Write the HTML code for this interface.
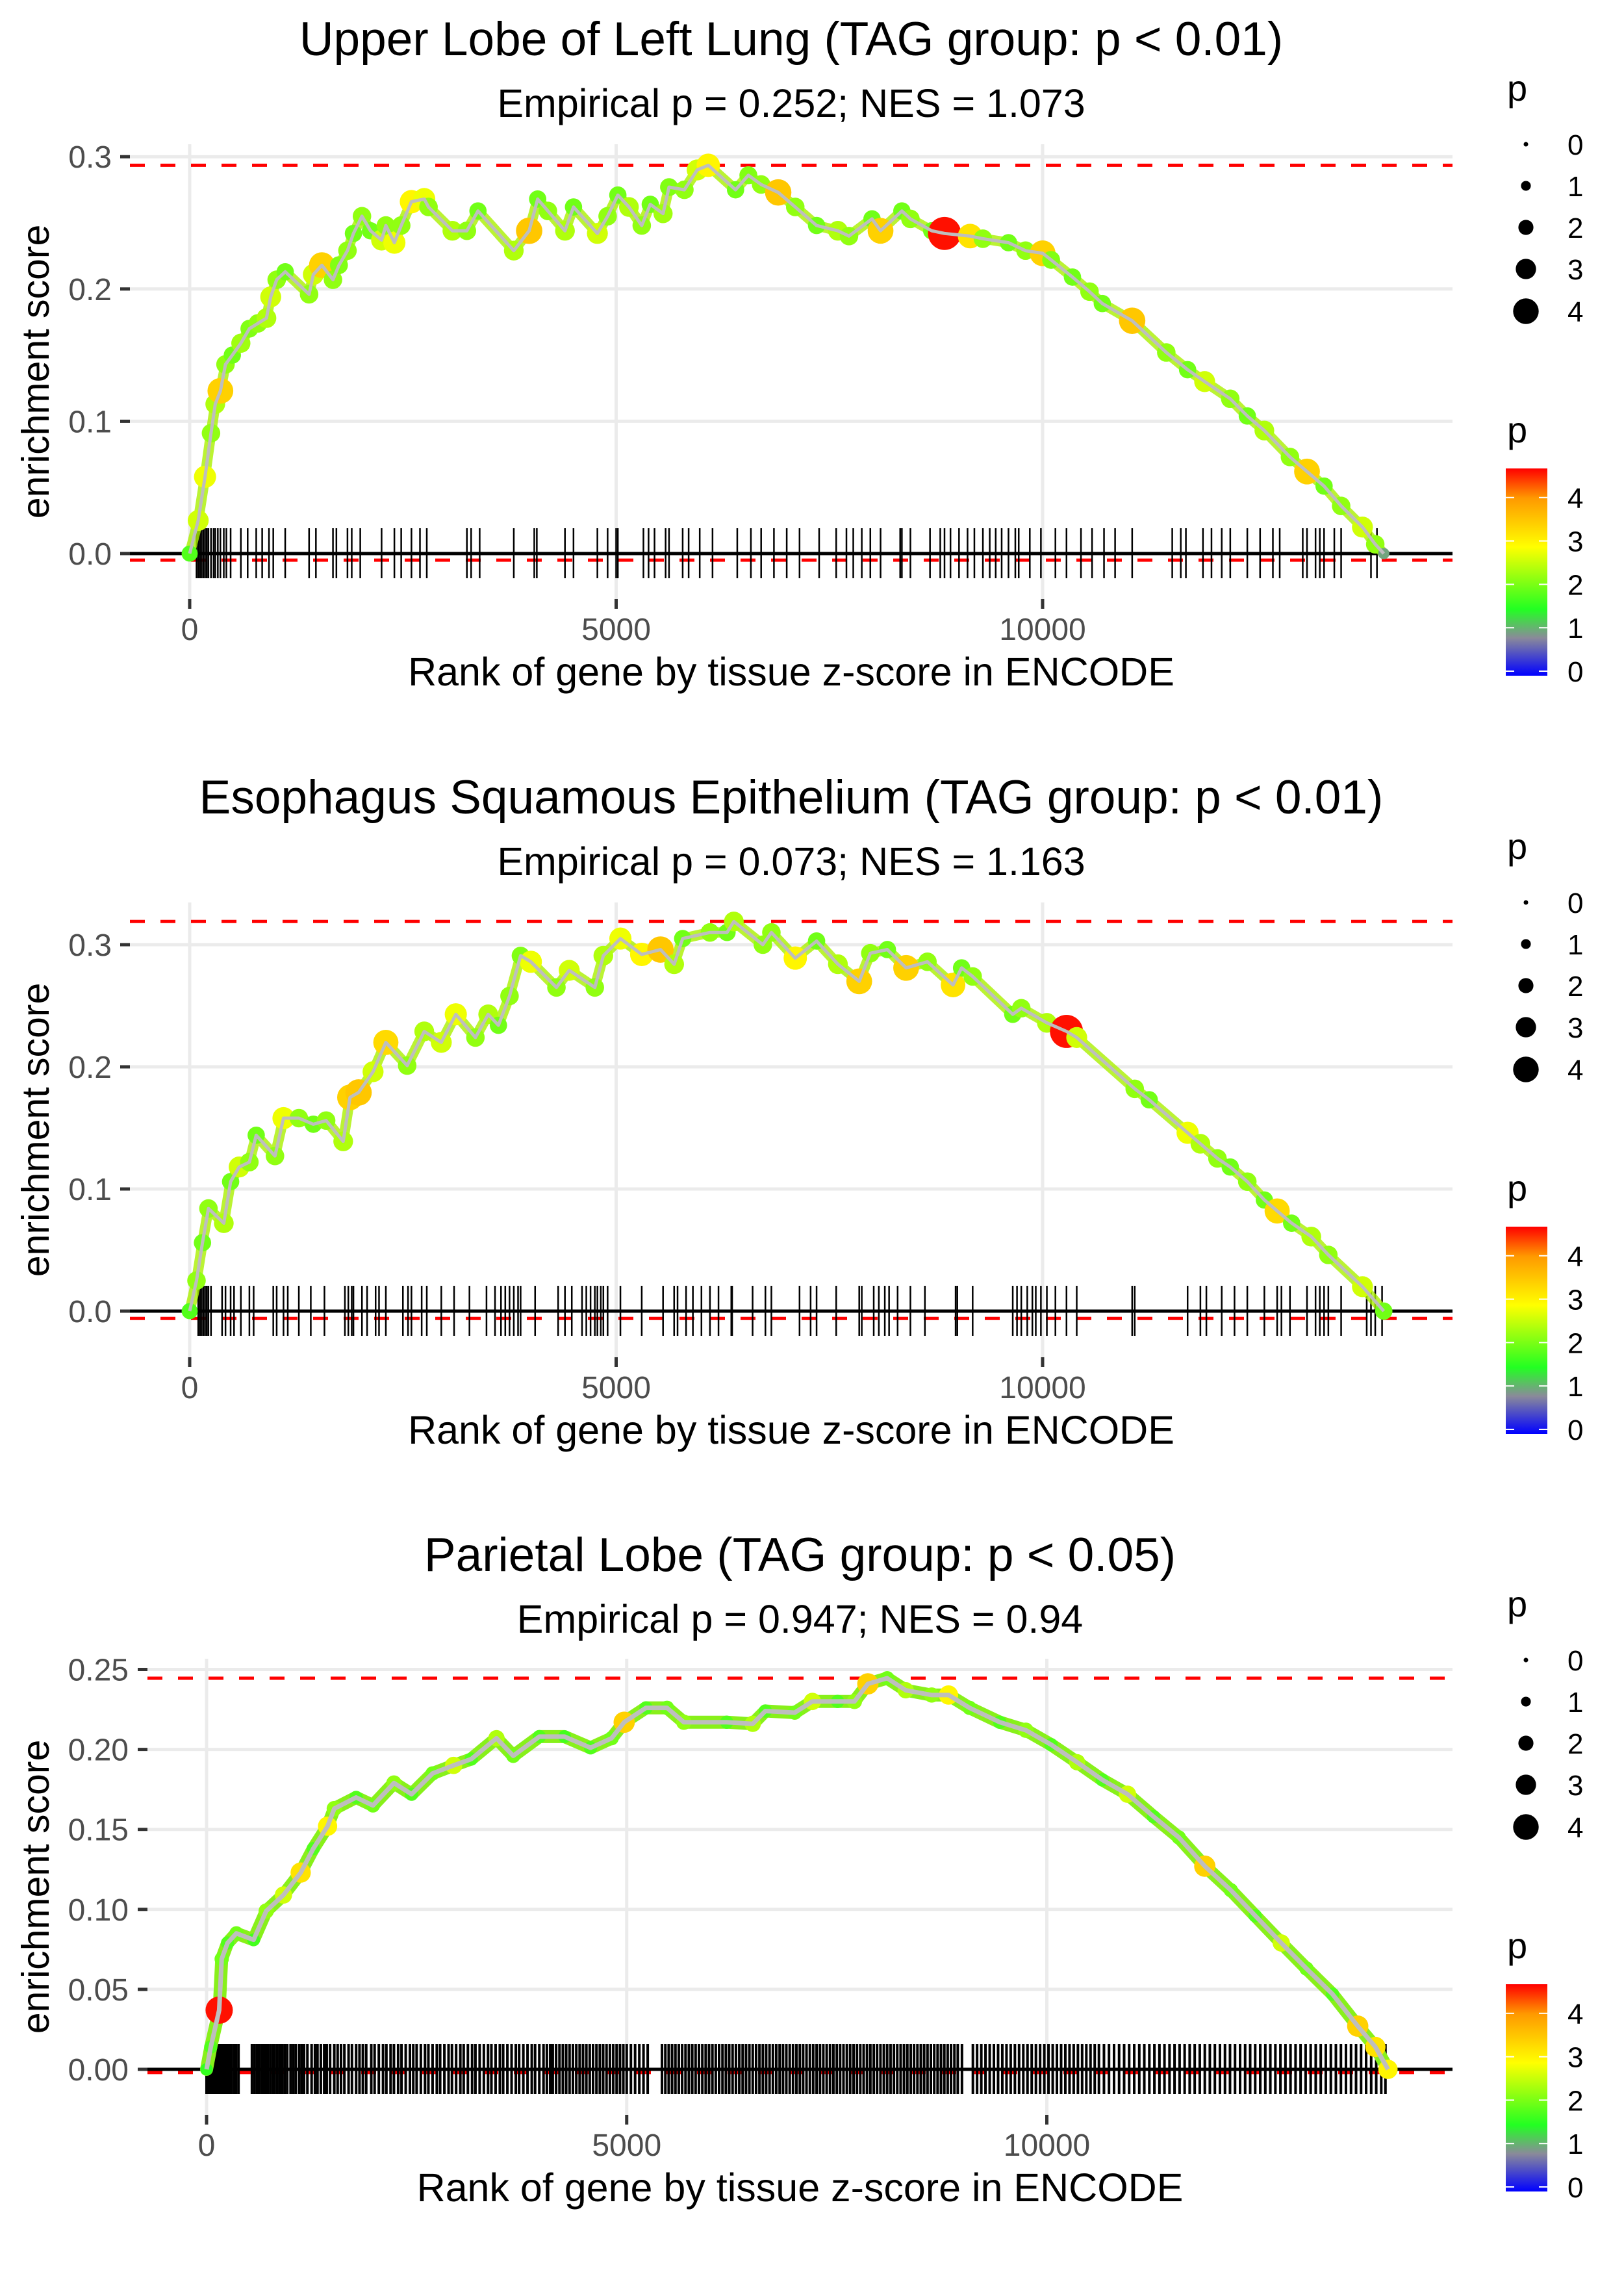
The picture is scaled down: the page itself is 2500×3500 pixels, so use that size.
<!DOCTYPE html>
<html><head><meta charset="utf-8">
<style>
html,body{margin:0;padding:0;background:#fff;}
svg{display:block;font-family:"Liberation Sans",Arial,sans-serif;}
</style></head>
<body>
<svg id="fig" width="2500" height="3500" viewBox="0 0 2500 3500" xmlns="http://www.w3.org/2000/svg">
<defs>
<linearGradient id="pgrad" x1="0" y1="1" x2="0" y2="0">
<stop offset="0" stop-color="#0000ff"/>
<stop offset="0.182" stop-color="#8a8a9a"/>
<stop offset="0.321" stop-color="#22ff22"/>
<stop offset="0.621" stop-color="#ffff00"/>
<stop offset="0.857" stop-color="#ff9900"/>
<stop offset="1" stop-color="#ff0000"/>
</linearGradient>
</defs>
</svg>
<script>
// ---------- Panel 1 data: Upper Lobe of Left Lung ----------
const p1Rank = [0,100,180,250,300,360,420,500,600,700,800,900,950,1020,1120,1400,1450,1550,1680,1750,1850,1920,2020,2120,2250,2300,2400,2480,2600,2750,2800,3080,3250,3380,3800,3980,4080,4200,4400,4500,4780,4900,5020,5150,5300,5400,5550,5620,5800,5950,6080,6400,6550,6700,6900,7100,7350,7600,7730,8000,8100,8350,8450,8700,8850,9150,9300,9600,9800,10000,10100,10350,10550,10700,11050,11450,11700,11900,12200,12400,12600,12900,13100,13300,13500,13750,13900,14000];
const p1ES = [0,0.025,0.058,0.091,0.113,0.123,0.143,0.150,0.159,0.170,0.174,0.178,0.194,0.207,0.213,0.196,0.211,0.218,0.207,0.218,0.229,0.242,0.255,0.244,0.237,0.248,0.235,0.248,0.266,0.268,0.262,0.244,0.244,0.259,0.229,0.244,0.268,0.259,0.244,0.262,0.242,0.255,0.271,0.262,0.248,0.264,0.257,0.277,0.275,0.290,0.2935,0.275,0.286,0.279,0.273,0.262,0.248,0.244,0.240,0.253,0.244,0.259,0.253,0.244,0.242,0.240,0.238,0.235,0.229,0.227,0.222,0.209,0.198,0.189,0.176,0.152,0.139,0.130,0.117,0.104,0.093,0.073,0.062,0.051,0.036,0.020,0.007,0.0];
const p1P = [1.8,2.6,2.8,2.2,2.4,3.4,2.2,2.0,2.3,2.1,2.2,2.4,2.6,2.2,2.0,2.2,2.6,3.4,2.2,2.1,2.2,2.0,2.2,2.0,2.6,2.2,2.8,2.2,3.0,2.8,2.2,2.4,2.2,2.0,2.4,3.5,2.0,2.2,2.4,2.0,2.6,2.2,2.0,2.4,2.2,2.0,2.3,2.1,2.2,2.6,3.0,2.0,2.1,2.2,3.5,2.2,2.0,2.4,2.2,2.0,3.4,2.0,2.2,2.0,4.6,3.2,2.2,2.0,2.2,3.4,2.1,2.0,2.2,2.0,3.5,2.2,2.0,2.6,2.2,2.0,2.4,2.2,3.4,2.0,2.2,2.6,2.2,1.0];
const p1Hits = [80,100,120,140,160,180,200,220,250,280,300,330,360,400,430,480,600,680,780,850,930,980,1120,1400,1480,1680,1720,1850,1900,2000,2250,2400,2480,2600,2700,2780,3250,3300,3400,3800,4040,4070,4400,4500,4780,4900,5000,5020,5320,5380,5450,5580,5620,5780,5850,5980,6130,6420,6580,6700,6850,7000,7150,7380,7580,7700,7780,7880,7980,8100,8330,8350,8450,8680,8800,8850,8920,9020,9120,9200,9300,9380,9450,9520,9600,9680,9720,9850,9980,10150,10280,10450,10580,10720,10850,11050,11520,11620,11680,11880,11980,12100,12200,12400,12550,12700,12780,13050,13100,13200,13250,13300,13420,13500,13850,13920];

// ---------- Panel 2 data: Esophagus Squamous Epithelium ----------
const p2Rank = [0,80,150,220,400,480,580,700,780,1000,1100,1280,1450,1600,1800,1880,1980,2150,2300,2550,2750,2950,3120,3350,3500,3620,3750,3880,4000,4300,4450,4750,4850,5050,5300,5520,5680,5780,6100,6300,6380,6720,6820,7100,7350,7600,7850,7980,8180,8400,8650,8950,9050,9180,9650,9750,10050,10280,10400,11080,11250,11700,11850,12050,12200,12400,12600,12750,12920,13150,13350,13750,14000];
const p2ES = [0,0.025,0.056,0.084,0.072,0.106,0.118,0.122,0.144,0.127,0.158,0.158,0.153,0.156,0.139,0.175,0.179,0.196,0.220,0.201,0.229,0.220,0.243,0.224,0.243,0.234,0.258,0.291,0.286,0.265,0.279,0.265,0.291,0.305,0.292,0.296,0.284,0.305,0.310,0.310,0.319,0.300,0.310,0.289,0.303,0.284,0.270,0.293,0.296,0.281,0.286,0.267,0.281,0.274,0.243,0.248,0.236,0.229,0.224,0.182,0.173,0.146,0.137,0.125,0.118,0.106,0.091,0.082,0.072,0.061,0.046,0.020,0.0];
const p2P = [1.8,2.2,2.0,2.2,2.4,2.0,2.6,2.2,2.0,2.2,2.8,2.2,2.0,2.2,2.4,3.4,3.5,2.6,3.3,2.2,2.4,2.6,2.8,2.2,2.4,2.0,2.2,2.1,2.8,2.2,2.6,2.2,2.4,2.8,3.0,3.5,2.4,2.0,2.2,2.0,2.4,2.2,2.2,3.0,2.0,2.4,3.4,2.2,2.0,3.4,2.2,3.2,2.0,2.2,2.0,2.2,2.4,4.6,2.6,2.2,2.0,2.8,2.4,2.2,2.0,2.2,2.0,3.3,2.0,2.4,2.2,2.6,2.0];
const p2Hits = [100,120,140,160,180,200,220,250,380,420,480,520,600,700,750,980,1020,1100,1150,1280,1420,1580,1820,1860,1900,1920,2020,2080,2180,2220,2300,2500,2560,2600,2720,2780,2950,3100,3280,3480,3580,3650,3700,3750,3800,3850,3880,4050,4320,4400,4480,4600,4650,4700,4750,4780,4820,4850,4900,5050,5300,5550,5680,5720,5820,5900,6000,6100,6200,6350,6360,6600,6750,6820,7150,7280,7350,7580,7850,7880,8020,8080,8150,8200,8300,8450,8620,8980,9000,9180,9650,9700,9750,9820,9880,9920,9980,10050,10150,10280,10400,11050,11080,11700,11850,11920,12100,12250,12400,12600,12750,12800,12900,13100,13200,13250,13300,13350,13500,13800,13850,13900,13980];

// ---------- Panel 3 data: Parietal Lobe ----------
const p3Rank = [0,50,150,180,250,355,560,710,915,1120,1270,1440,1520,1780,1980,2230,2440,2690,2940,3150,3450,3650,3960,4260,4570,4820,4970,5230,5480,5680,6190,6500,6650,7000,7210,7510,7710,7870,8100,8320,8630,8830,9080,9440,9750,10050,10360,10660,10960,11270,11570,11880,12190,12480,12790,13090,13400,13700,13910,14060];
const p3ES = [0,0.014,0.037,0.069,0.079,0.085,0.081,0.099,0.109,0.123,0.138,0.152,0.163,0.170,0.165,0.179,0.172,0.185,0.190,0.194,0.207,0.196,0.208,0.208,0.201,0.207,0.217,0.226,0.226,0.217,0.217,0.216,0.224,0.223,0.230,0.230,0.230,0.241,0.2445,0.237,0.234,0.234,0.226,0.217,0.212,0.203,0.192,0.181,0.172,0.158,0.145,0.127,0.112,0.096,0.079,0.063,0.047,0.027,0.014,0.0];
const p3P = [1.6,1.8,4.6,2.0,1.8,2.0,1.7,2.2,2.6,3.2,1.8,3.0,2.2,1.8,2.0,2.2,1.8,2.0,2.6,1.8,2.4,2.0,1.8,1.7,1.8,2.0,3.4,1.8,2.0,2.2,1.8,2.4,1.8,2.0,2.6,1.8,2.2,3.4,2.0,2.4,2.2,3.0,2.0,1.8,2.2,1.8,2.4,1.8,2.6,1.8,2.0,3.4,2.0,1.8,2.6,2.0,1.8,3.4,3.2,3.0];
const p3Hits = [0,20,40,60,80,100,120,140,160,180,200,220,240,260,280,300,330,350,380,540,570,600,620,650,680,700,730,760,790,810,840,870,900,930,960,1000,1030,1060,1100,1130,1160,1200,1250,1290,1320,1360,1400,1430,1470,1520,1560,1600,1640,1690,1730,1780,1820,1860,1900,1960,2000,2050,2100,2140,2190,2230,2280,2320,2370,2420,2460,2500,2550,2600,2640,2690,2740,2780,2830,2880,2920,2970,3020,3060,3110,3160,3200,3250,3300,3350,3390,3440,3490,3530,3580,3630,3680,3720,3770,3820,3870,3910,3960,4010,4050,4090,4120,4160,4200,4240,4280,4320,4360,4400,4440,4480,4520,4560,4600,4640,4680,4720,4760,4800,4840,4880,4920,4960,5000,5050,5100,5150,5200,5250,5420,5460,5500,5540,5580,5620,5660,5700,5740,5780,5820,5860,5900,5940,5980,6020,6060,6100,6140,6180,6220,6260,6300,6340,6380,6420,6460,6500,6540,6580,6620,6660,6700,6740,6780,6820,6860,6900,6940,6980,7020,7060,7100,7140,7180,7220,7260,7300,7340,7380,7420,7460,7500,7540,7580,7620,7660,7700,7740,7780,7820,7860,7900,7940,7980,8020,8060,8100,8140,8180,8220,8260,8300,8340,8380,8420,8460,8500,8540,8580,8620,8660,8700,8740,8780,8820,8860,8900,8940,8990,9120,9170,9220,9270,9320,9370,9420,9470,9520,9570,9620,9670,9720,9770,9820,9870,9920,9970,10020,10070,10120,10170,10220,10270,10320,10370,10420,10470,10520,10570,10620,10680,10740,10800,10860,10920,10980,11040,11100,11160,11220,11280,11340,11400,11460,11520,11580,11640,11700,11760,11820,11880,11940,12000,12060,12120,12180,12240,12300,12360,12420,12480,12540,12600,12660,12720,12780,12840,12900,12960,13020,13080,13140,13200,13260,13320,13380,13440,13500,13560,13620,13680,13740,13800,13860,13920,13980,14030];

const xTicks = [0,5000,10000];
const xTickLabels = ["0","5000","10000"];
const yTicks12 = [0,0.1,0.2,0.3];
const yTickLabels12 = ["0.0","0.1","0.2","0.3"];
const yTicks3 = [0,0.05,0.10,0.15,0.20,0.25];
const yTickLabels3 = ["0.00","0.05","0.10","0.15","0.20","0.25"];
const legendValues = [0,1,2,3,4];

const svg = document.getElementById('fig');
const NS = 'http://www.w3.org/2000/svg';
function mk(tag, attrs, parent){
  const e = document.createElementNS(NS, tag);
  for (const k in attrs) e.setAttribute(k, attrs[k]);
  (parent||svg).appendChild(e);
  return e;
}
const stops = [[0,[0,0,255]],[0.85,[138,138,154]],[1.5,[34,255,34]],[2.9,[255,255,0]],[4.0,[255,153,0]],[4.67,[255,0,0]]];
function pColor(p){
  if (p <= stops[0][0]) return 'rgb(0,0,255)';
  for (let i=1;i<stops.length;i++){
    if (p <= stops[i][0]){
      const a=stops[i-1], b=stops[i], t=(p-a[0])/(b[0]-a[0]);
      const c=a[1].map((v,j)=>Math.round(v+(b[1][j]-v)*t));
      return 'rgb('+c.join(',')+')';
    }
  }
  return 'rgb(255,0,0)';
}
function pRadius(p){ return 3.5 + 4.05*p; }

const panels = [
  {key:'lung', off:0, title:'Upper Lobe of Left Lung (TAG group: p < 0.01)', sub:'Empirical p = 0.252; NES = 1.073',
   rank:p1Rank, es:p1ES, p:p1P, hits:p1Hits, x0:292, xs:0.13130, y0:852, ys:2036, left:200, right:2236, top:222, bottom:922,
   yt:yTicks12, ytl:yTickLabels12, maxES:0.2935, minES:-0.005, labRight:172, backing:false},
  {key:'esophagus', off:1167, title:'Esophagus Squamous Epithelium (TAG group: p < 0.01)', sub:'Empirical p = 0.073; NES = 1.163',
   rank:p2Rank, es:p2ES, p:p2P, hits:p2Hits, x0:292, xs:0.13130, y0:2018, ys:1880, left:200, right:2236, top:1389, bottom:2089,
   yt:yTicks12, ytl:yTickLabels12, maxES:0.319, minES:-0.006, labRight:172, backing:false},
  {key:'parietal', off:2333, title:'Parietal Lobe (TAG group: p < 0.05)', sub:'Empirical p = 0.947; NES = 0.94',
   rank:p3Rank, es:p3ES, p:p3P, hits:p3Hits, x0:318, xs:0.12935, y0:3185, ys:2462, left:227, right:2236, top:2553, bottom:3255,
   yt:yTicks3, ytl:yTickLabels3, maxES:0.2445, minES:-0.002, labRight:198, backing:true}
];

panels.forEach(P=>{
  const X = r => P.x0 + r*P.xs;
  const Y = v => P.y0 - v*P.ys;
  const g = mk('g', {});
  
  
  const cx = (P.left+P.right)/2;

  const t = mk('text', {x:cx, y:85+P.off, 'text-anchor':'middle', 'font-size':73, fill:'#000'}, g);
  t.textContent = P.title;
  
  
  const s = mk('text', {x:cx, y:180+P.off, 'text-anchor':'middle', 'font-size':61, fill:'#000'}, g);
  s.textContent = P.sub;
  
  

  P.yt.forEach((v,i)=>{
    const l = mk('line', {x1:P.left, x2:P.right, y1:Y(v), y2:Y(v), stroke:'#ebebeb', 'stroke-width':5}, g);
    
    
    const tk = mk('line', {x1:P.left-15, x2:P.left, y1:Y(v), y2:Y(v), stroke:'#333', 'stroke-width':5}, g);
    
    
    const tl = mk('text', {x:P.labRight, y:Y(v)+17, 'text-anchor':'end', 'font-size':48, fill:'#4d4d4d'}, g);
    tl.textContent = P.ytl[i];
    
    
  });
  xTicks.forEach((r,i)=>{
    const l = mk('line', {x1:X(r), x2:X(r), y1:P.top, y2:P.bottom, stroke:'#ebebeb', 'stroke-width':5}, g);
    
    
    const tk = mk('line', {x1:X(r), x2:X(r), y1:P.bottom, y2:P.bottom+15, stroke:'#333', 'stroke-width':5}, g);
    
    
    const tl = mk('text', {x:X(r), y:985+P.off, 'text-anchor':'middle', 'font-size':48, fill:'#4d4d4d'}, g);
    tl.textContent = xTickLabels[i];
    
    
  });
  const xa = mk('text', {x:cx, y:1055+P.off, 'text-anchor':'middle', 'font-size':61, fill:'#000'}, g);
  xa.textContent = 'Rank of gene by tissue z-score in ENCODE';
  
  
  const ym = (P.top+P.bottom)/2;
  const ya = mk('text', {x:0, y:0, transform:'translate(75,'+ym+') rotate(-90)', 'text-anchor':'middle', 'font-size':59, fill:'#000'}, g);
  ya.textContent = 'enrichment score';
  
  

  [P.maxES, P.minES].forEach(v=>{
    const l = mk('line', {x1:P.left, x2:P.right, y1:Y(v), y2:Y(v), stroke:'#ff0000', 'stroke-width':5, 'stroke-dasharray':'23 24'}, g);
    
    
  });

  const rug = mk('g', {}, g);
  
  
  P.hits.forEach(r=>{
    const l = mk('line', {x1:X(r), x2:X(r), y1:P.y0-39, y2:P.y0+38, stroke:'#000', 'stroke-width':P.backing?4:2.5}, rug);
    
    
  });
  const z = mk('line', {x1:P.left, x2:P.right, y1:Y(0), y2:Y(0), stroke:'#000', 'stroke-width':5}, g);
  
  

  const pts = P.rank.map((r,i)=>X(r).toFixed(1)+','+Y(P.es[i]).toFixed(1)).join(' ');
  if (P.backing){
    const b = mk('polyline', {points:pts, fill:'none', stroke:'#88f01a', 'stroke-width':20, 'stroke-linejoin':'round', 'stroke-linecap':'round'}, g);
    
    
  } else {
    const b = mk('polyline', {points:pts, fill:'none', stroke:'#aaf000', 'stroke-width':16, 'stroke-linejoin':'round', 'stroke-linecap':'round', opacity:0.8}, g);
    
    
  }
  P.rank.forEach((r,i)=>{
    const c = mk('circle', {cx:X(r), cy:Y(P.es[i]), r:pRadius(P.p[i])*(P.backing?0.95:1.15), fill:pColor(P.p[i])}, g);
    
    
  });
  const line = mk('polyline', {points:pts, fill:'none', stroke:'#bebebe', 'stroke-width':P.backing?7:5, 'stroke-linejoin':'round'}, g);
  
  

  const lg = mk('g', {}, g);
  
  
  const lt = mk('text', {x:2320, y:155+P.off, 'font-size':56, fill:'#000'}, lg);
  lt.textContent = 'p';
  
  
  const rowY = [222,286,350,414,479];
  legendValues.forEach((v,i)=>{
    const c = mk('circle', {cx:2349, cy:rowY[i]+P.off, r:pRadius(v), fill:'#000'}, lg);
    
    
    const tx = mk('text', {x:2413, y:rowY[i]+P.off+16, 'font-size':44, fill:'#000'}, lg);
    tx.textContent = String(v);
    
    
  });
  const cg = mk('g', {}, g);
  
  
  const ct = mk('text', {x:2320, y:681+P.off, 'font-size':56, fill:'#000'}, cg);
  ct.textContent = 'p';
  
  
  const bar = mk('rect', {x:2318, y:721+P.off, width:64, height:319, fill:'url(#pgrad)'}, cg);
  
  
  legendValues.forEach(v=>{
    const yy = 1033 - v*66.8 + P.off;
    [[2318,2331],[2369,2382]].forEach(xx=>{
      const tk = mk('line', {x1:xx[0], x2:xx[1], y1:yy, y2:yy, stroke:'#fff', 'stroke-width':2}, cg);
      
      
    });
    const tx = mk('text', {x:2413, y:yy+16, 'font-size':44, fill:'#000'}, cg);
    tx.textContent = String(v);
    
    
  });
});
</script>
</body></html>
